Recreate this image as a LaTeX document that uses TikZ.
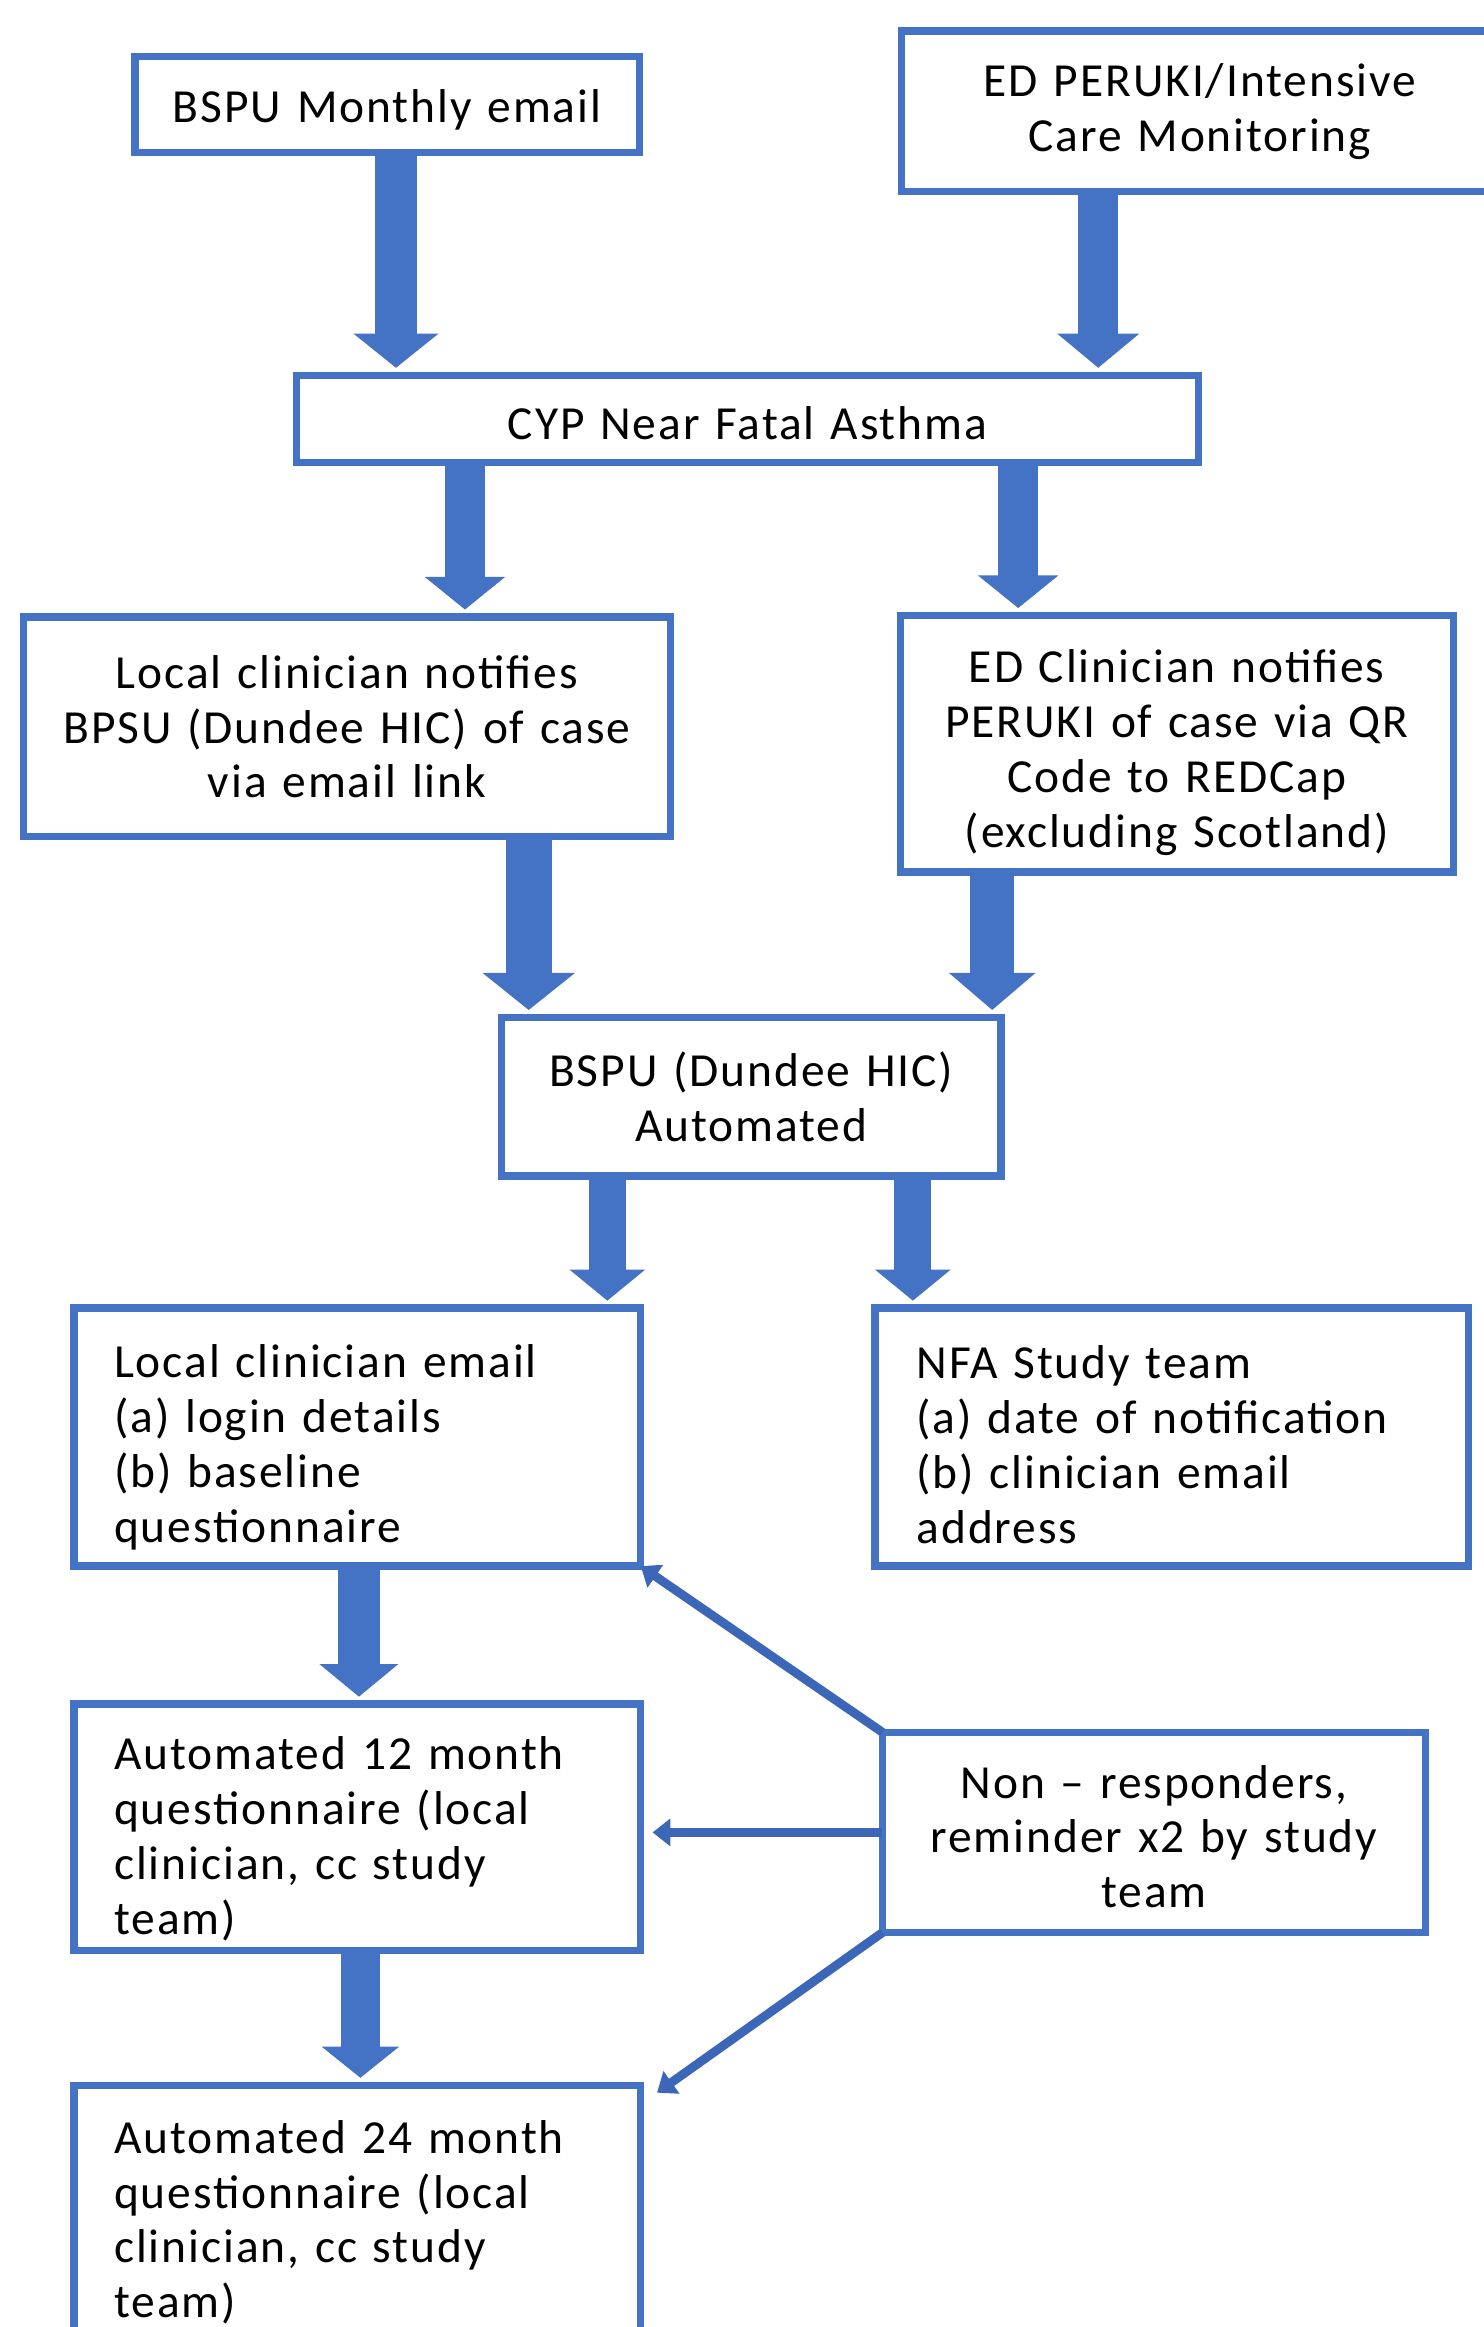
\documentclass[tikz,border=0pt]{standalone}
\usepackage{fontspec}
\setmainfont{Carlito}[LetterSpace=4.0]
\usetikzlibrary{arrows.meta,calc}
\definecolor{boxblue}{HTML}{4472C4}
\definecolor{arrowblue}{HTML}{4472C4}
\definecolor{thinblue}{HTML}{3C67B9}
\tikzset{
  box/.style={draw=boxblue, line width=5pt, inner sep=0pt, outer sep=0pt,
    font=\fontsize{32}{37}\selectfont},
  dn/.style={execute at begin node={\rule{0pt}{#1}}},
  blk/.style n args={3}{draw=arrowblue, line width=#1,
    -{Triangle[width=#2,length=#3]}, shorten >=5pt},
  thinarrow/.style={draw=thinblue, line width=6pt,
    -{Triangle[width=18pt,length=12pt]}}
}
\begin{document}
\begin{tikzpicture}[x=1pt,y=-1pt]
\useasboundingbox (0,0) rectangle (1000,1569);
% boxes
\node[box, minimum width=340, minimum height=65, align=center, text width=330, dn=30pt] (bspu) at (261,70.5) {BSPU Monthly email};
\node[box, minimum width=402, minimum height=108, align=center, text width=390] (ped) at (809,75) {ED PERUKI/Intensive\\Care Monitoring};
\node[box, minimum width=608, minimum height=59, align=center, text width=590, dn=28pt] (cyp) at (504,282.5) {CYP Near Fatal Asthma};
\node[box, minimum width=436, minimum height=148, align=center, text width=420] (loc) at (234,490) {Local clinician notifies\\BPSU (Dundee HIC) of case\\via email link};
\node[box, minimum width=373, minimum height=173, align=center, text width=360, dn=34pt] (edc) at (793.5,501.5) {ED Clinician notifies\\PERUKI of case via QR\\Code to REDCap\\(excluding Scotland)};
\node[box, minimum width=337, minimum height=107, align=center, text width=325] (auto) at (506.5,739.5) {BSPU (Dundee HIC)\\Automated};
\node[box, minimum width=382, minimum height=174, align=left, text width=328, dn=36pt] (lce) at (241,969) {Local clinician email\\(a) login details\\(b) baseline\\questionnaire};
\node[box, minimum width=400, minimum height=174, align=left, text width=344, dn=32pt] (nfa) at (790,969) {NFA Study team\\(a) date of notification\\(b) clinician email\\address};
\node[box, minimum width=382, minimum height=166, align=left, text width=328, dn=38pt] (a12) at (241,1232) {Automated 12 month\\questionnaire (local\\clinician, cc study\\team)};
\node[box, minimum width=366, minimum height=135, align=center, text width=350, dn=28pt] (non) at (778,1235.5) {Non -- responders,\\reminder x2 by study\\team};
\node[box, minimum width=382, minimum height=179, align=left, text width=328, dn=28pt] (a24) at (241,1495.5) {Automated 24 month\\questionnaire (local\\clinician, cc study\\team)};
% x positions of block arrows
\coordinate (x1) at (267,0);
\coordinate (x2) at (740.5,0);
\coordinate (x3) at (313.5,0);
\coordinate (x4) at (686.5,0);
\coordinate (x5) at (356.5,0);
\coordinate (x6) at (669,0);
\coordinate (x7) at (409.5,0);
\coordinate (x8) at (615.5,0);
\coordinate (x9) at (242,0);
\coordinate (x10) at (243,0);
% block arrows
\draw[blk={28pt}{56pt}{23pt}] (bspu.south -| x1) -- (cyp.north -| x1);
\draw[blk={27pt}{54pt}{23pt}] (ped.south -| x2) -- (cyp.north -| x2);
\draw[blk={27pt}{53pt}{22pt}] (cyp.south -| x3) -- (loc.north -| x3);
\draw[blk={27pt}{53pt}{22pt}] (cyp.south -| x4) -- (edc.north -| x4);
\draw[blk={31pt}{61pt}{25pt}] (loc.south -| x5) -- (auto.north -| x5);
\draw[blk={30pt}{57pt}{25pt}] (edc.south -| x6) -- (auto.north -| x6);
\draw[blk={25pt}{50pt}{21pt}] (auto.south -| x7) -- (lce.north -| x7);
\draw[blk={25pt}{50pt}{21pt}] (auto.south -| x8) -- (nfa.north -| x8);
\draw[blk={28pt}{52pt}{22pt}] (lce.south -| x9) -- (a12.north -| x9);
\draw[blk={26pt}{51pt}{21pt}] (a12.south -| x10) -- (a24.north -| x10);
% thin arrows
\coordinate (t24) at ($(a24.north east)+(11,5)$);
\draw[thinarrow] (non.north west) -- (lce.south east);
\draw[thinarrow, shorten >=8pt] (non.west) -- (non.west -| a12.east);
\draw[thinarrow] (non.south west) -- (t24);
\end{tikzpicture}
\end{document}
